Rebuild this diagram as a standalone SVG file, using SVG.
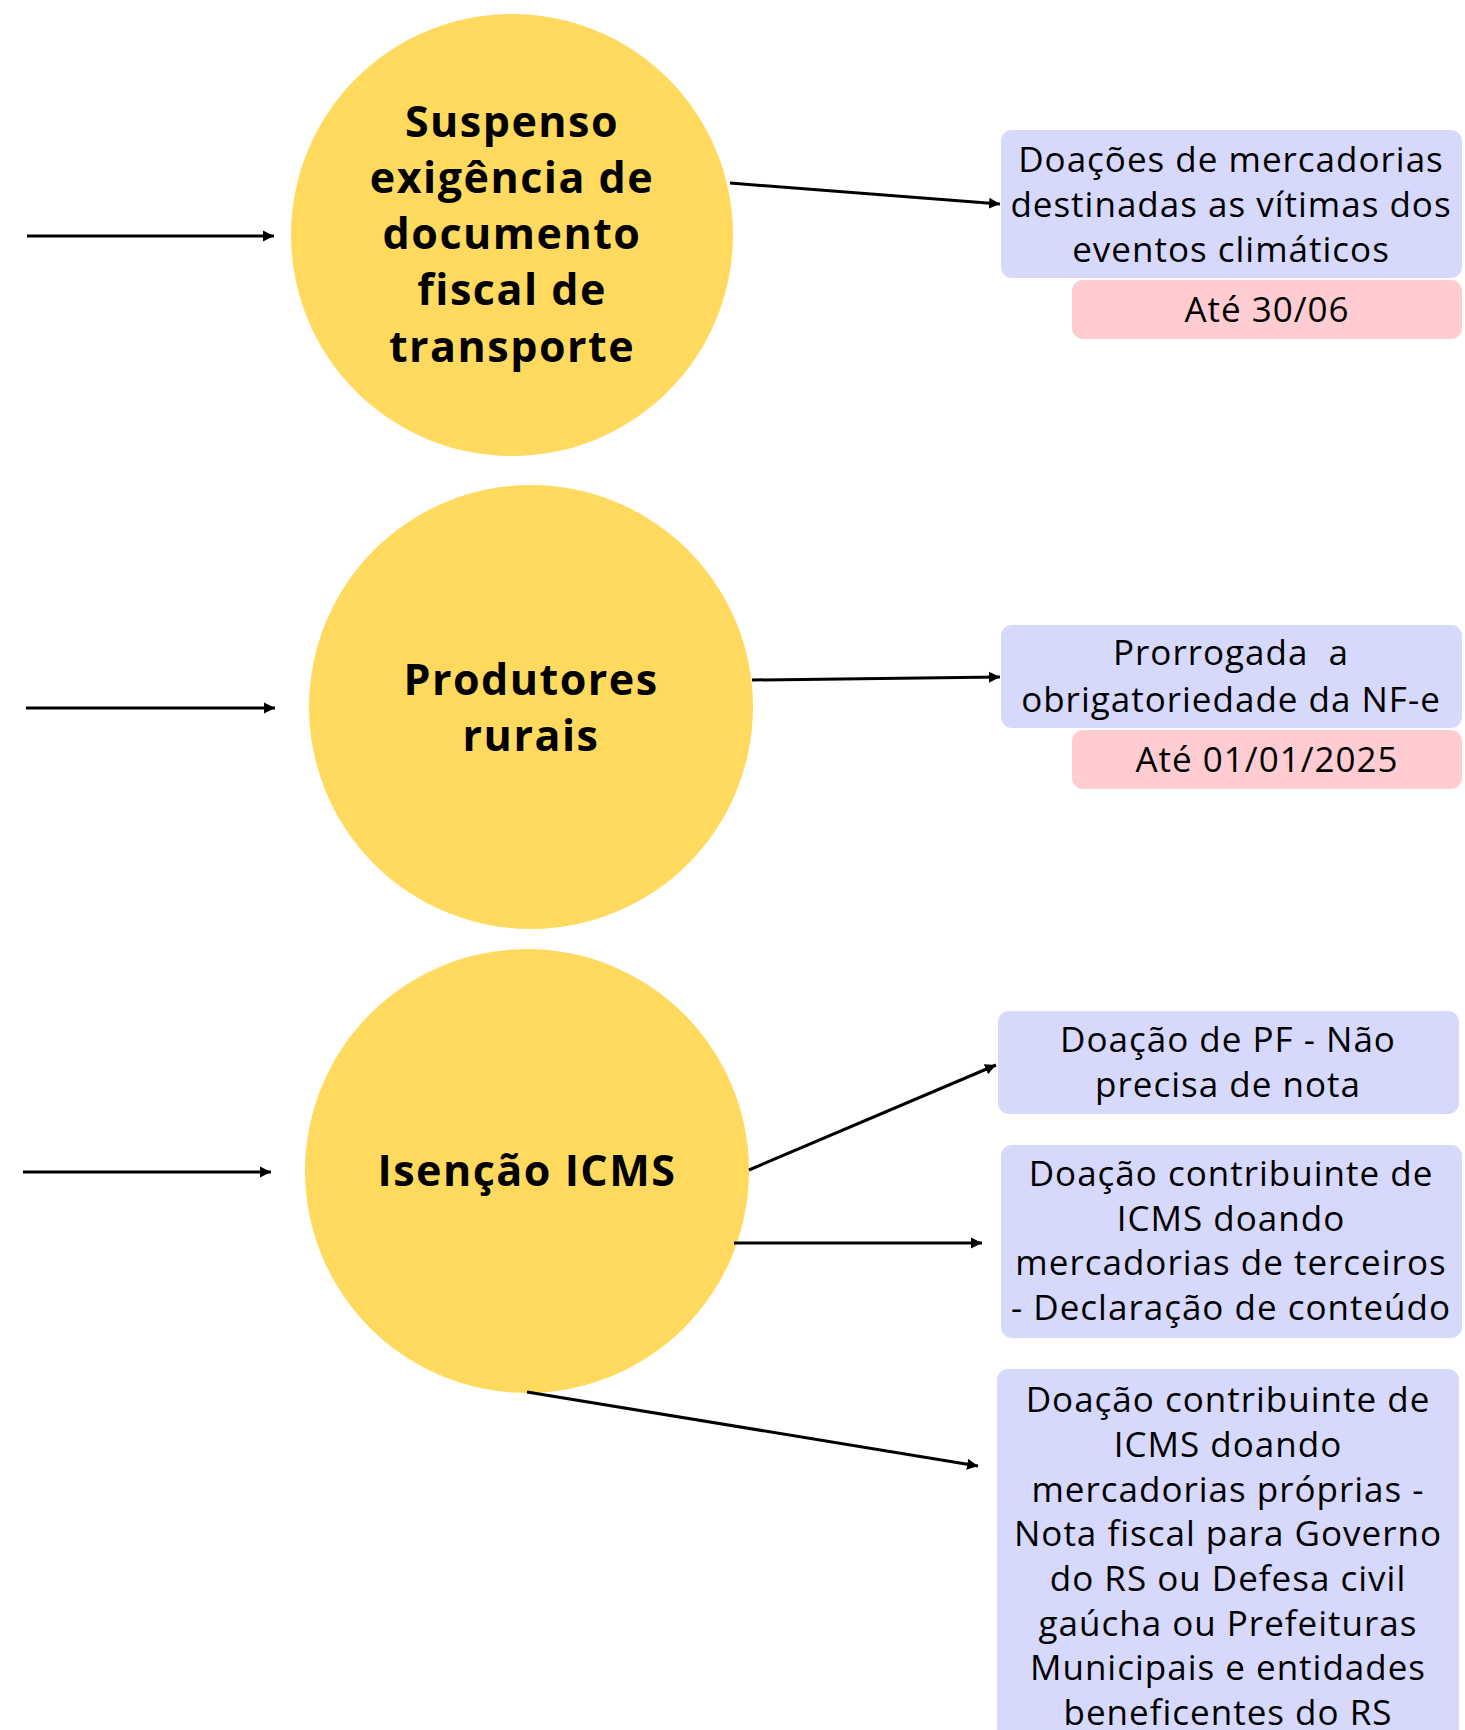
<svg xmlns="http://www.w3.org/2000/svg" width="1465" height="1730" viewBox="0 0 1465 1730">
<defs>
<marker id="ah" markerUnits="userSpaceOnUse" markerWidth="13" markerHeight="13" viewBox="0 0 13 13" refX="11" refY="6.5" orient="auto">
<path d="M0,1 L11,6.5 L0,12 Z" fill="#000"/>
</marker>
<style>
.circ{fill:#FFDA5E}
.blue{fill:#D7D9FC}
.pink{fill:#FFCCD2}
.ct{font-family:"Open Sans","Liberation Sans",sans-serif;font-weight:700;font-size:43px;letter-spacing:1.5px;fill:#000;text-anchor:middle}
.bt{font-family:"Open Sans","Liberation Sans",sans-serif;font-size:35px;letter-spacing:1px;fill:#000;text-anchor:middle}
.con line{stroke:#000;stroke-width:3;marker-end:url(#ah)}
</style>
</defs>
<rect width="1465" height="1730" fill="#fff"/>
<g id="n1">
<circle class="circ" cx="512" cy="235" r="221"/>
<text class="ct"><tspan x="512" y="137">Suspenso</tspan><tspan x="512" y="193">exigência de</tspan><tspan x="512" y="249">documento</tspan><tspan x="512" y="305">fiscal de</tspan><tspan x="512" y="362">transporte</tspan></text>
</g>
<g id="n2">
<circle class="circ" cx="531" cy="707" r="222"/>
<text class="ct"><tspan x="531" y="695">Produtores</tspan><tspan x="531" y="751">rurais</tspan></text>
</g>
<g id="n3">
<circle class="circ" cx="527" cy="1171" r="222"/>
<text class="ct" x="527" y="1186">Isenção ICMS</text>
</g>
<g id="b1">
<rect class="blue" x="1001" y="130" width="461" height="148" rx="11"/>
<text class="bt"><tspan x="1231" y="172">Doações de mercadorias</tspan><tspan x="1231" y="217">destinadas as vítimas dos</tspan><tspan x="1231" y="262">eventos climáticos</tspan></text>
</g>
<g id="p1">
<rect class="pink" x="1072" y="280" width="390" height="59" rx="11"/>
<text class="bt" x="1267" y="322">Até 30/06</text>
</g>
<g id="b2">
<rect class="blue" x="1001" y="625" width="461" height="103" rx="11"/>
<text class="bt" style="white-space:pre"><tspan x="1231" y="665">Prorrogada  a</tspan><tspan x="1231" y="712">obrigatoriedade da NF-e</tspan></text>
</g>
<g id="p2">
<rect class="pink" x="1072" y="730" width="390" height="59" rx="11"/>
<text class="bt" x="1267" y="772">Até 01/01/2025</text>
</g>
<g id="b3">
<rect class="blue" x="998" y="1011" width="461" height="103" rx="11"/>
<text class="bt"><tspan x="1228" y="1052">Doação de PF - Não</tspan><tspan x="1228" y="1097">precisa de nota</tspan></text>
</g>
<g id="b4">
<rect class="blue" x="1001" y="1145" width="461" height="193" rx="11"/>
<text class="bt"><tspan x="1231" y="1186">Doação contribuinte de</tspan><tspan x="1231" y="1231">ICMS doando</tspan><tspan x="1231" y="1275">mercadorias de terceiros</tspan><tspan x="1231" y="1320">- Declaração de conteúdo</tspan></text>
</g>
<g id="b5">
<rect class="blue" x="997" y="1369" width="462" height="380" rx="11"/>
<text class="bt"><tspan x="1228" y="1412">Doação contribuinte de</tspan><tspan x="1228" y="1457">ICMS doando</tspan><tspan x="1228" y="1502">mercadorias próprias -</tspan><tspan x="1228" y="1546">Nota fiscal para Governo</tspan><tspan x="1228" y="1591">do RS ou Defesa civil</tspan><tspan x="1228" y="1636">gaúcha ou Prefeituras</tspan><tspan x="1228" y="1680">Municipais e entidades</tspan><tspan x="1228" y="1725">beneficentes do RS</tspan></text>
</g>
<g id="connectors" class="con">
<line x1="27" y1="236" x2="274" y2="236"/>
<line x1="26" y1="708" x2="275" y2="708"/>
<line x1="23" y1="1172" x2="271" y2="1172"/>
<line x1="730" y1="183" x2="1000" y2="204"/>
<line x1="752" y1="680" x2="1000" y2="677"/>
<line x1="749" y1="1170" x2="996" y2="1065"/>
<line x1="734" y1="1243" x2="982" y2="1243"/>
<line x1="527" y1="1392" x2="978" y2="1466"/>
</g>
</svg>
